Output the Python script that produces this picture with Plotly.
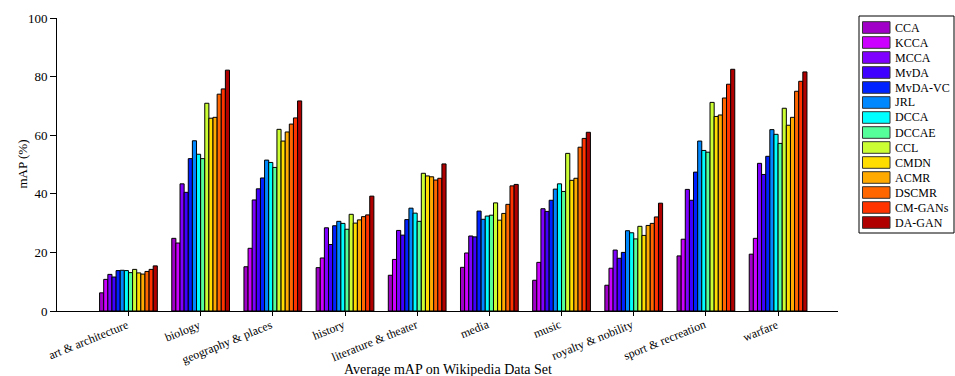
import plotly.graph_objects as go

categories = ["art & architecture", "biology", "geography & places", "history",
              "literature & theater", "media", "music", "royalty & nobility",
              "sport & recreation", "warfare"]

methods = ["CCA", "KCCA", "MCCA", "MvDA", "MvDA-VC", "JRL", "DCCA", "DCCAE",
           "CCL", "CMDN", "ACMR", "DSCMR", "CM-GANs", "DA-GAN"]

cca = [6.2, 24.8, 15.1, 14.8, 12.2, 14.9, 10.5, 8.8, 18.8, 19.4]
kcca = [10.8, 23.2, 21.4, 18.1, 17.6, 19.8, 16.6, 14.6, 24.5, 24.8]
mcca = [12.5, 43.4, 37.9, 28.4, 27.5, 25.6, 34.9, 20.8, 41.5, 50.4]
mvda = [11.6, 40.5, 41.7, 22.7, 25.9, 25.3, 34.0, 18.0, 37.8, 46.6]
mvda_vc = [13.8, 52.0, 45.4, 29.1, 31.2, 34.1, 37.8, 20.0, 47.4, 52.8]
jrl = [13.9, 58.1, 51.5, 30.6, 35.1, 31.3, 41.6, 27.4, 58.0, 61.9]
dcca = [13.8, 53.5, 50.7, 29.9, 33.4, 32.4, 43.4, 26.7, 54.8, 60.3]
dccae = [13.1, 52.0, 49.0, 27.9, 30.6, 32.7, 40.8, 24.6, 54.2, 57.2]
ccl = [14.2, 70.9, 62.0, 33.0, 47.0, 36.9, 53.8, 28.9, 71.2, 69.2]
cmdn = [13.0, 65.8, 58.0, 30.0, 46.1, 31.0, 44.6, 25.8, 66.4, 63.4]
acmr = [12.6, 66.1, 61.1, 31.1, 45.8, 33.3, 45.3, 29.2, 66.9, 66.1]
dscmr = [13.5, 74.0, 63.8, 32.2, 44.7, 36.4, 55.9, 29.9, 72.7, 75.0]
cm_gans = [14.2, 75.8, 65.9, 32.8, 45.3, 42.7, 58.9, 32.1, 77.4, 78.4]
da_gan = [15.4, 82.2, 71.7, 39.2, 50.2, 43.2, 61.0, 36.8, 82.5, 81.6]

series = [cca, kcca, mcca, mvda, mvda_vc, jrl, dcca, dccae, ccl, cmdn, acmr,
          dscmr, cm_gans, da_gan]

colors = ["#a000c8", "#cc00ff", "#8000ff", "#4000ff", "#0022ff", "#0088ff",
          "#00ffff", "#55ff99", "#ccff33", "#ffdd00", "#ffaa00", "#ff6600",
          "#ff3300", "#b00000"]

FONT = "Liberation Serif, Times New Roman, serif"

W, H = 955, 376
ML, MR, MT, MB = 57, 117, 18, 65
PW, PH = W - ML - MR, H - MT - MB


def px_x(px):
    return (px - ML) / PW


def px_y(py):
    return (H - MB - py) / PH


fig = go.Figure()
for name, vals, col in zip(methods, series, colors):
    fig.add_trace(go.Bar(
        name=name, x=categories, y=vals, showlegend=False,
        marker=dict(color=col, line=dict(color="black", width=1)),
    ))

# manual legend (compact, like the reference)
shapes = [dict(type="rect", xref="paper", yref="paper",
               x0=px_x(859), x1=px_x(954), y0=px_y(233), y1=px_y(16),
               line=dict(color="black", width=1), fillcolor="white", layer="below")]
annotations = []
for i, (name, col) in enumerate(zip(methods, colors)):
    cy = 27.5 + i * 15.0
    shapes.append(dict(type="rect", xref="paper", yref="paper",
                       x0=px_x(862.5), x1=px_x(890), y0=px_y(cy + 5.8), y1=px_y(cy - 5.8),
                       line=dict(color="#333333", width=1), fillcolor=col))
    annotations.append(dict(xref="paper", yref="paper", x=px_x(893), y=px_y(cy),
                            text=name, showarrow=False, xanchor="left", yanchor="middle",
                            font=dict(family=FONT, size=12, color="black")))

# rotated category labels
for cat in categories:
    annotations.append(dict(xref="x", yref="paper", x=cat, y=px_y(316),
                            text=cat, showarrow=False, xanchor="right", yanchor="top",
                            textangle=-22, xshift=3, borderpad=0,
                            font=dict(family=FONT, size=12, color="black")))

# x axis title
annotations.append(dict(xref="paper", yref="paper", x=0.5, y=px_y(361),
                        text="Average mAP on Wikipedia Data Set", showarrow=False,
                        xanchor="center", yanchor="top", borderpad=0,
                        font=dict(family=FONT, size=14, color="black")))

# y axis title
annotations.append(dict(xref="paper", yref="paper", x=px_x(22), y=0.5,
                        text="mAP (%)", showarrow=False, textangle=-90,
                        xanchor="center", yanchor="middle", borderpad=0,
                        font=dict(family=FONT, size=13, color="black")))

fig.update_layout(
    width=W, height=H,
    margin=dict(l=ML, r=MR, t=MT, b=MB),
    barmode="group", bargap=0.2, bargroupgap=0,
    plot_bgcolor="white", paper_bgcolor="white",
    font=dict(family=FONT, size=13, color="black"),
    showlegend=False,
    shapes=shapes, annotations=annotations,
    xaxis=dict(
        type="category", range=[-0.99, 9.83], automargin=False,
        showline=True, linecolor="black", linewidth=1,
        ticks="outside", ticklen=4, tickcolor="black",
        showticklabels=False,
        showgrid=False,
    ),
    yaxis=dict(
        range=[0, 100], dtick=20, automargin=False,
        showline=True, linecolor="black", linewidth=1,
        ticks="outside", ticklen=6, tickcolor="black",
        tickfont=dict(family=FONT, size=13),
        showgrid=False, zeroline=False,
    ),
)

fig.write_html("out.html")
